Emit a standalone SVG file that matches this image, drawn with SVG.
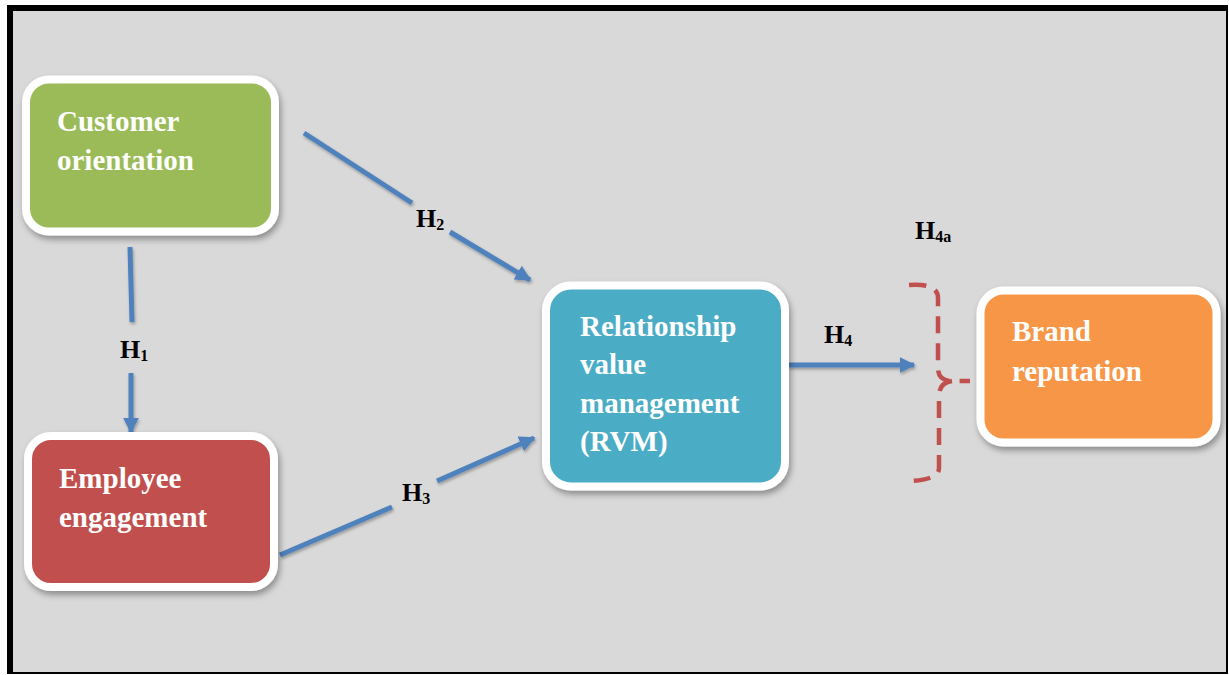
<svg xmlns="http://www.w3.org/2000/svg" width="1229" height="675" viewBox="0 0 1229 675">
<defs>
<filter id="sh" x="-10%" y="-10%" width="125%" height="130%">
<feDropShadow dx="2" dy="4" stdDeviation="3" flood-color="#000" flood-opacity="0.35"/>
</filter>
<filter id="lsh" filterUnits="userSpaceOnUse" x="0" y="0" width="1229" height="675">
<feDropShadow dx="1" dy="2" stdDeviation="1.5" flood-color="#000" flood-opacity="0.3"/>
</filter>
<marker id="ah" viewBox="0 0 10 10" refX="9" refY="5" markerWidth="16" markerHeight="16" markerUnits="userSpaceOnUse" orient="auto">
<path d="M0,0 L10,5 L0,10 Z" fill="#4F81BD"/>
</marker>
<style>
.box{stroke:#FFFFFF;stroke-width:8;filter:url(#sh)}
.lbl{font-family:"Liberation Serif","Times New Roman",serif;font-weight:bold;font-size:29px;fill:#FFFFFF}
.h{font-family:"Liberation Serif","Times New Roman",serif;font-weight:bold;font-size:26px;fill:#000000}
.sub{font-size:16px}
.ln{stroke:#4F81BD;stroke-width:5;fill:none;filter:url(#lsh)}
.br{stroke:#C0504D;stroke-width:4.5;fill:none;stroke-dasharray:17 10}
</style>
</defs>
<rect x="7" y="5" width="1221" height="669" fill="#000000"/>
<rect x="13" y="11" width="1213" height="661" fill="#D9D9D9"/>

<g id="connectors">
<line class="ln" x1="130" y1="247" x2="132" y2="322"/>
<line class="ln" x1="131" y1="373" x2="131" y2="432" marker-end="url(#ah)"/>
<line class="ln" x1="304" y1="133" x2="412" y2="203"/>
<line class="ln" x1="450" y1="232" x2="530" y2="280" marker-end="url(#ah)"/>
<line class="ln" x1="280" y1="555" x2="392" y2="507"/>
<line class="ln" x1="437" y1="481" x2="534" y2="438" marker-end="url(#ah)"/>
<line class="ln" x1="788" y1="365" x2="914" y2="365" marker-end="url(#ah)"/>
<path class="br" d="M909,285 Q938,283 938,298 L938,368 Q938,381 952,381 L970,381 M952,381 Q939,383 939,396 L939,468 Q939,480 909,481"/>
<text class="h" x="120" y="358">H<tspan class="sub" dy="3">1</tspan></text>
<text class="h" x="416" y="227">H<tspan class="sub" dy="3">2</tspan></text>
<text class="h" x="402" y="501">H<tspan class="sub" dy="3">3</tspan></text>
<text class="h" x="824" y="343">H<tspan class="sub" dy="3">4</tspan></text>
<text class="h" x="915" y="239">H<tspan class="sub" dy="3">4a</tspan></text>
</g>

<g id="customer-orientation">
<rect class="box" x="26" y="79.5" width="249" height="152" rx="23" fill="#9BBB59"/>
<text class="lbl" x="57" y="131">Customer</text>
<text class="lbl" x="57" y="170">orientation</text>
</g>

<g id="employee-engagement">
<rect class="box" x="28" y="436" width="246" height="151" rx="23" fill="#C0504D"/>
<text class="lbl" x="59" y="488">Employee</text>
<text class="lbl" x="59" y="527">engagement</text>
</g>

<g id="rvm">
<rect class="box" x="546" y="285.5" width="239" height="201" rx="25" fill="#4BACC6"/>
<text class="lbl" x="580" y="336">Relationship</text>
<text class="lbl" x="580" y="374">value</text>
<text class="lbl" x="580" y="413">management</text>
<text class="lbl" x="580" y="451">(RVM)</text>
</g>

<g id="brand-reputation">
<rect class="box" x="980.5" y="290.5" width="236" height="152" rx="23" fill="#F79646"/>
<text class="lbl" x="1012" y="341">Brand</text>
<text class="lbl" x="1012" y="381">reputation</text>
</g>
</svg>
